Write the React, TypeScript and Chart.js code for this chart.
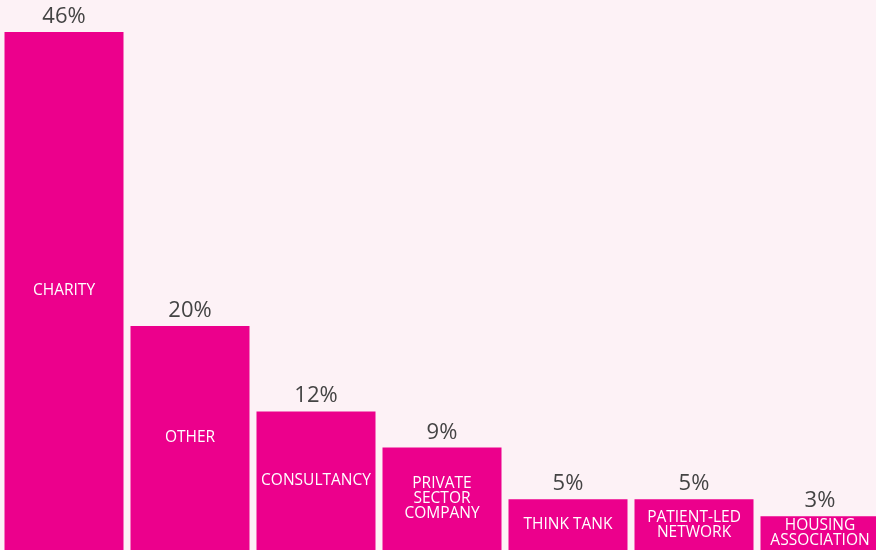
import React, { useEffect, useRef } from "react";
import { Chart, registerables } from "chart.js";

Chart.register(...registerables);

const categories: string[][] = [
  ["CHARITY"],
  ["OTHER"],
  ["CONSULTANCY"],
  ["PRIVATE", "SECTOR", "COMPANY"],
  ["THINK TANK"],
  ["PATIENT-LED", "NETWORK"],
  ["HOUSING", "ASSOCIATION"],
];
const values: number[] = [46, 19.9, 12.3, 9.1, 4.5, 4.5, 3.0];
const valueLabels: string[] = ["46%", "20%", "12%", "9%", "5%", "5%", "3%"];

const BAR = "#ec008c";
const BG = "#fdf2f6";

const labelPlugin = {
  id: "barLabels",
  afterDatasetsDraw(chart: any) {
    const ctx = chart.ctx;
    const meta = chart.getDatasetMeta(0);
    ctx.save();
    meta.data.forEach((bar: any, i: number) => {
      const { x, y, base } = bar.getProps(["x", "y", "base"], true);
      ctx.textAlign = "center";
      ctx.fillStyle = "#444444";
      ctx.font = '22px "Open Sans", sans-serif';
      ctx.textBaseline = "alphabetic";
      ctx.fillText(valueLabels[i], x, y - 9);
      const lines = categories[i];
      const lh = 15;
      const mid = (y + base) / 2;
      ctx.fillStyle = "#ffffff";
      ctx.font = '15.5px "Open Sans", sans-serif';
      ctx.textBaseline = "middle";
      const start = mid - ((lines.length - 1) * lh) / 2;
      lines.forEach((ln, k) => ctx.fillText(ln, x, start + k * lh));
    });
    ctx.restore();
  },
};

export default function App() {
  const ref = useRef<HTMLCanvasElement>(null);
  useEffect(() => {
    if (!ref.current) return;
    const chart = new Chart(ref.current, {
      type: "bar",
      data: {
        labels: categories.map((c) => c.join(" ")),
        datasets: [
          {
            data: values,
            backgroundColor: BAR,
            borderWidth: 0,
            categoryPercentage: 1,
            barPercentage: 119 / 126,
          },
        ],
      },
      options: {
        responsive: false,
        animation: false,
        layout: { padding: { left: 1 } },
        plugins: { legend: { display: false }, tooltip: { enabled: false } },
        scales: {
          x: { display: false },
          y: { display: false, min: 0, max: 48.84 },
        },
      },
      plugins: [labelPlugin],
    });
    return () => chart.destroy();
  }, []);
  return (
    <div
      style={{
        position: "absolute",
        left: 0,
        top: 0,
        width: 876,
        height: 550,
        overflow: "hidden",
        background: BG,
      }}
    >
      <canvas ref={ref} width={883} height={550} style={{ display: "block" }} />
    </div>
  );
}
